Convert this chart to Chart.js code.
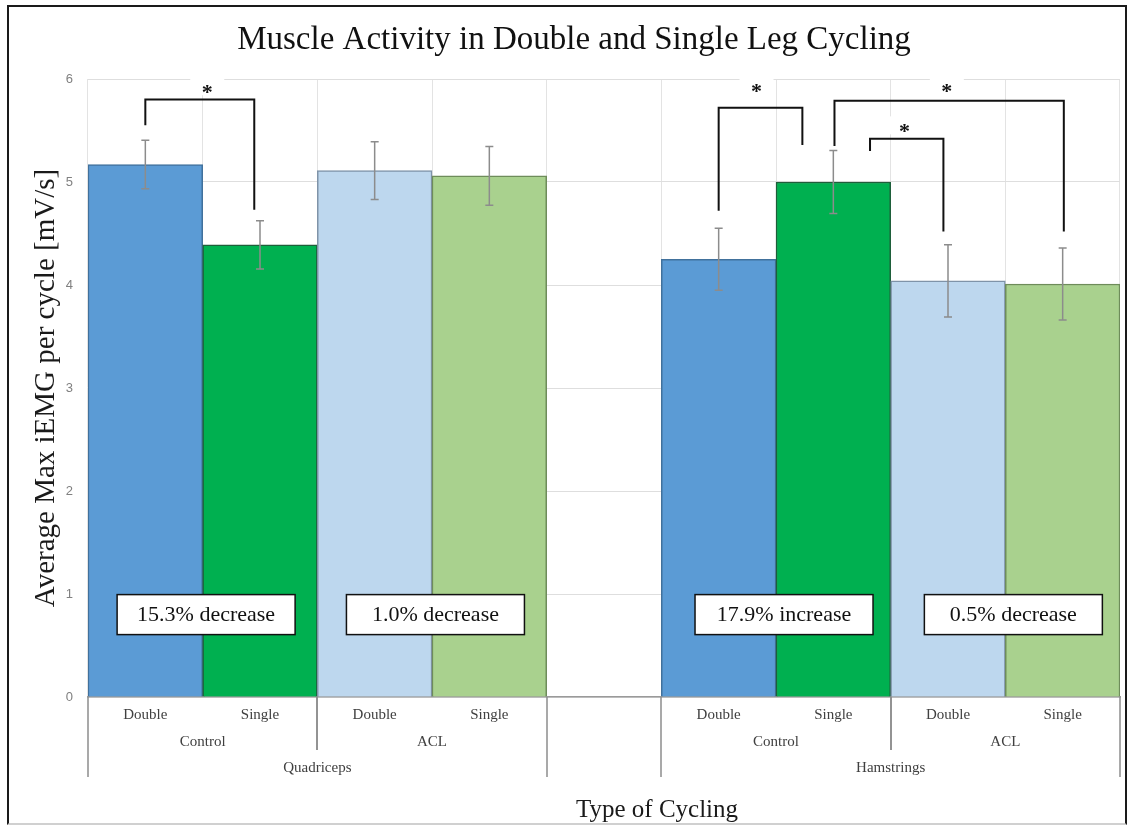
<!DOCTYPE html>
<html><head><meta charset="utf-8">
<script src="https://cdn.jsdelivr.net/npm/chart.js@4.4.1/dist/chart.umd.min.js"></script>
<style>
html,body{margin:0;padding:0;background:#fff;}
#wrap{position:relative;width:1130px;height:828px;overflow:hidden;}
#frame{position:absolute;left:7px;top:5px;width:1120px;height:820px;border:2px solid #1a1a1a;border-bottom-color:#d0d0d0;box-sizing:border-box;pointer-events:none;}
</style></head><body>
<div id="wrap"><canvas id="c" width="1130" height="828"></canvas><div id="frame"></div></div>
<script>
// ---- data ----
const categories = ['Double','Single','Double','Single','','Double','Single','Double','Single'];
const groupLevel2 = ['Control','ACL','Control','ACL'];
const groupLevel2Span = [[0,1],[2,3],[5,6],[7,8]];
const groupLevel3 = ['Quadriceps','Hamstrings'];
const groupLevel3Span = [[0,3],[5,8]];
const meanValues = [5.17,4.39,5.11,5.06,null,4.25,5.00,4.04,4.01];
const sdValues   = [0.235,0.235,0.28,0.285,null,0.30,0.305,0.35,0.35];
const yTickMin = 0, yTickMax = 6, yTickStep = 1;
const changeLabels = ['15.3% decrease','1.0% decrease','17.9% increase','0.5% decrease'];
const changeAt     = [0.53,2.53,5.57,7.57];
const changeValue  = [0.8,0.8,0.8,0.8];
// significance brackets: [xLeft, xRight, yTop, yLeftEnd, yRightEnd] (category index, value)
const sigBrackets = [
  [0.00,0.95,5.80,5.55,4.73],
  [5.00,5.73,5.72,4.72,5.36],
  [6.01,8.01,5.79,5.35,4.52],
  [6.32,6.96,5.42,5.30,4.52]
];
const sigStars = [[0.54,5.92],[5.33,5.93],[6.99,5.93],[6.62,5.54]];

// ---- styles ----
const barFill   = ['#5B9BD5','#00B050','#BDD7EE','#A9D18E',null,'#5B9BD5','#00B050','#BDD7EE','#A9D18E'];
const barBorder = ['#41719C','#1E5E3A','#7F93A8','#6E8C5A',null,'#41719C','#1E5E3A','#7F93A8','#6E8C5A'];
const SERIF = '"Liberation Serif","Times New Roman",serif';

const overlay = {
  id:'overlay',
  afterDatasetsDraw(chart){
    const {ctx, scales:{x,y}} = chart;
    ctx.save();
    // error bars
    ctx.strokeStyle = '#8c8c8c'; ctx.lineWidth = 1.5;
    meanValues.forEach((m,i)=>{
      if (m == null) return;
      const px = x.getPixelForValue(i);
      const t = y.getPixelForValue(m + sdValues[i]);
      const b = y.getPixelForValue(m - sdValues[i]);
      ctx.beginPath();
      ctx.moveTo(px,t); ctx.lineTo(px,b);
      ctx.moveTo(px-4,t); ctx.lineTo(px+4,t);
      ctx.moveTo(px-4,b); ctx.lineTo(px+4,b);
      ctx.stroke();
    });
    // brackets
    ctx.strokeStyle = '#111'; ctx.lineWidth = 2;
    sigBrackets.forEach(([x1,x2,yt,y1,y2])=>{
      const a = x.getPixelForValue(x1), b = x.getPixelForValue(x2);
      ctx.beginPath();
      ctx.moveTo(a, y.getPixelForValue(y1));
      ctx.lineTo(a, y.getPixelForValue(yt));
      ctx.lineTo(b, y.getPixelForValue(yt));
      ctx.lineTo(b, y.getPixelForValue(y2));
      ctx.stroke();
    });
    // stars
    ctx.font = 'bold 22px ' + SERIF;
    ctx.textAlign = 'center'; ctx.textBaseline = 'alphabetic';
    sigStars.forEach(([sx,sy])=>{
      const px = x.getPixelForValue(sx), py = y.getPixelForValue(sy);
      ctx.fillStyle = '#fff';
      ctx.fillRect(px-17, py-10, 34, 18);
      ctx.fillStyle = '#111';
      ctx.fillText('*', px, py + 12);
    });
    // change boxes
    ctx.font = '22px ' + SERIF;
    ctx.textBaseline = 'middle';
    changeLabels.forEach((txt,i)=>{
      const px = x.getPixelForValue(changeAt[i]), py = y.getPixelForValue(changeValue[i]);
      ctx.fillStyle = '#fff';
      ctx.fillRect(px-89, py-20, 178, 40);
      ctx.strokeStyle = '#111'; ctx.lineWidth = 1.5;
      ctx.strokeRect(px-89, py-20, 178, 40);
      ctx.fillStyle = '#111';
      ctx.fillText(txt, px, py+1);
    });
    ctx.restore();
  },
  afterDraw(chart){
    const {ctx, scales:{x}, chartArea} = chart;
    ctx.save();
    const axisY = x.top;
    ctx.strokeStyle = '#8c8c8c'; ctx.lineWidth = 1.5;
    const l3edges = [];
    groupLevel3Span.forEach(s=>{ l3edges.push(s[0]-0.5, s[1]+0.5); });
    l3edges.forEach(e=>{
      const px = Math.round(x.getPixelForValue(e));
      ctx.beginPath(); ctx.moveTo(px, axisY); ctx.lineTo(px, axisY+80); ctx.stroke();
    });
    groupLevel2Span.forEach(s=>{
      [s[0]-0.5, s[1]+0.5].forEach(e=>{
        if (l3edges.includes(e)) return;
        const px = Math.round(x.getPixelForValue(e));
        ctx.beginPath(); ctx.moveTo(px, axisY); ctx.lineTo(px, axisY+53); ctx.stroke();
      });
    });
    ctx.fillStyle = '#404040';
    ctx.font = '15px ' + SERIF;
    ctx.textAlign = 'center'; ctx.textBaseline = 'middle';
    groupLevel2.forEach((g,i)=>{
      const s = groupLevel2Span[i];
      ctx.fillText(g, x.getPixelForValue((s[0]+s[1])/2), axisY+45);
    });
    groupLevel3.forEach((g,i)=>{
      const s = groupLevel3Span[i];
      ctx.fillText(g, x.getPixelForValue((s[0]+s[1])/2), axisY+71);
    });
    // x axis title
    ctx.fillStyle = '#1a1a1a';
    ctx.font = '25px ' + SERIF;
    ctx.fillText('Type of Cycling', (chartArea.left+chartArea.right)/2 + 53, axisY+113);
    ctx.restore();
  }
};

new Chart(document.getElementById('c'), {
  type:'bar',
  data:{
    labels: categories,
    datasets:[{
      data: meanValues,
      backgroundColor: barFill,
      borderColor: barBorder,
      borderWidth: 1.5,
      barPercentage: 1,
      categoryPercentage: 1
    }]
  },
  options:{
    responsive:false,
    animation:false,
    devicePixelRatio:1,
    layout:{padding:{left:28,right:10,top:0,bottom:0}},
    plugins:{
      legend:{display:false},
      tooltip:{enabled:false},
      title:{
        display:true,
        text:'Muscle Activity in Double and Single Leg Cycling',
        color:'#111',
        font:{family:SERIF,size:33,weight:'normal'},
        padding:{top:21,bottom:18.4}
      }
    },
    scales:{
      x:{
        offset:true,
        grid:{display:true,offset:true,color:'#e3e3e3',drawTicks:false,lineWidth:1},
        border:{display:true,color:'#9a9a9a',width:1.5},
        ticks:{autoSkip:false,maxRotation:0,minRotation:0,padding:9,color:'#404040',font:{family:SERIF,size:15}},
        afterFit(s){ s.height = 131; }
      },
      y:{
        min:yTickMin,max:yTickMax,
        ticks:{stepSize:yTickStep,padding:15,color:'#808080',font:{family:'"Liberation Sans",Arial,sans-serif',size:13}},
        grid:{color:'#dedede',drawTicks:false,lineWidth:1},
        border:{display:false},
        title:{display:true,text:'Average Max iEMG per cycle [mV/s]',color:'#1a1a1a',font:{family:SERIF,size:29},padding:{top:1,bottom:0}},
        afterFit(s){ s.width = 60; }
      }
    }
  },
  plugins:[overlay]
});
</script>
</body></html>
